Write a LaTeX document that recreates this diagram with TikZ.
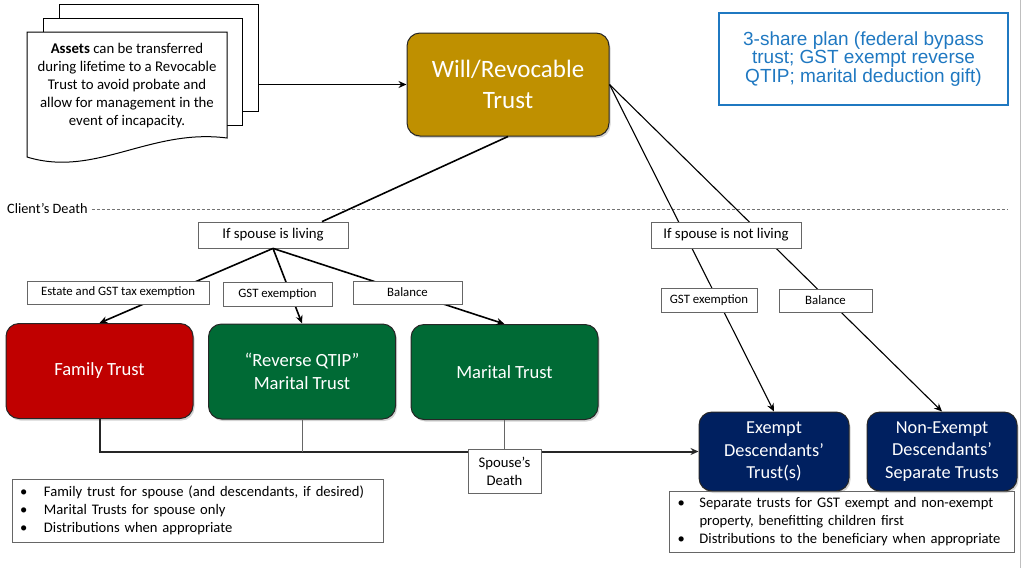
\documentclass[tikz,border=0pt]{standalone}
\usepackage{fontspec}
\setmainfont{Carlito}
\newfontfamily\arialfont{Liberation Sans}
\definecolor{gold}{HTML}{BF9000}
\definecolor{crimson}{HTML}{C00000}
\definecolor{forest}{HTML}{006A35}
\definecolor{navy}{HTML}{002060}
\definecolor{planblue}{HTML}{1F78C1}
\usetikzlibrary{arrows.meta, shadows}
\tikzset{box/.style={rounded corners=13pt, draw=black!85, line width=1pt, text=white, align=center, inner sep=0pt, drop shadow={opacity=0.35, shadow xshift=1.5pt, shadow yshift=-2pt}}}
\tikzset{trustsize/.style={minimum width=187pt, minimum height=95pt, font=\fontsize{18.6}{23}\selectfont}}
\tikzset{desc/.style={minimum width=150pt, minimum height=79pt, font=\fontsize{18.3}{22.5}\selectfont}}
\tikzset{sheet/.style={draw=black, line width=1pt, fill=white}}
\tikzset{tag/.style={draw=black!60, fill=white, line width=0.8pt, inner sep=0pt, font=\fontsize{12.8}{15}\selectfont}}
\tikzset{notes/.style={draw=black!60, line width=0.8pt, inner sep=0pt, align=left, font=\fontsize{14.6}{18}\selectfont}}
\tikzset{link/.style={line width=1.6pt, black}}
\tikzset{thinlink/.style={line width=1.1pt, black}}
\tikzset{spine/.style={line width=2pt, black!85}}
\tikzset{drop/.style={line width=0.6pt, black!60}}
\tikzset{arrowed/.style={-{Stealth[length=8pt, width=7pt]}}}

\begin{document}
\begin{tikzpicture}[x=1pt, y=-1pt]
	\useasboundingbox (0,0) rectangle (1024,568);
	\draw[black!25, line width=0.8pt] (1020,0) -- (1020,568);
	% stack of pages
	\node[sheet, minimum width=199pt, minimum height=107pt] (back) at (158.5,57.5) {};
	\node[sheet, minimum width=199pt, minimum height=107pt] (mid) at (142.5,71.5) {};
	\draw[sheet] (27,32) -- (227,32) -- (227,138) .. controls (150,128) and (95,178) .. (27,157) -- cycle;
	\node[align=center, font=\fontsize{14.8}{18}\selectfont] (assets) at (127,86) {\textbf{Assets} can be transferred\\during lifetime to a Revocable\\Trust to avoid probate and\\allow for management in the\\event of incapacity.};
	% main boxes
	\node[box, fill=gold, minimum width=202pt, minimum height=103pt, font=\fontsize{25}{31}\selectfont] (will) at (508,84.5) {Will/Revocable\\Trust};
	\node[draw=planblue, line width=1.5pt, text=planblue, minimum width=289pt, minimum height=92pt, inner sep=0pt, align=center, font=\arialfont\fontsize{19}{17.5}\selectfont] (plan) at (863.5,59) {3-share plan (federal bypass\\trust; GST exempt reverse\\QTIP; marital deduction gift)};
	\node[anchor=west, inner sep=0pt, font=\fontsize{14.3}{17}\selectfont] (death) at (7,209) {Client’s Death};
	\coordinate (deathR) at (1008,209);
	\draw[black!55, dash pattern=on 3pt off 2pt, line width=0.7pt] ([xshift=4pt]death.east) -- (deathR);
	\node[box, fill=crimson, trustsize] (family) at (99.5,371) {Family Trust};
	\node[box, fill=forest, trustsize] (qtip) at (302,371.5) {“Reverse QTIP”\\Marital Trust};
	\node[box, fill=forest, trustsize] (marital) at (504.5,372) {Marital Trust};
	\node[box, fill=navy, desc] (exempt) at (774,451.5) {Exempt\\Descendants’\\Trust(s)};
	\node[box, fill=navy, desc] (nonexempt) at (942,451.5) {Non-Exempt\\Descendants’\\Separate Trusts};
	\node[tag, minimum width=150pt, minimum height=26pt, font=\fontsize{14.8}{17}\selectfont] (living) at (273,235) {If spouse is living};
	% connectors
	\draw[link, arrowed] (assets -| back.east) ++(0,-1.5) -- (will.west);
	\draw[link] (will.south) -- ([xshift=49pt]living.north);
	\draw[link, arrowed] (living.south) -- (family.north);
	\draw[link, arrowed] (living.south) -- (qtip.north);
	\draw[link, arrowed] (living.south) -- (marital.north);
	\draw[thinlink, arrowed] (will.east) -- (exempt.north);
	\draw[thinlink, arrowed] (will.east) -- (nonexempt.north);
	\draw[spine, arrowed] (family.south) |- (exempt.west);
	\draw[drop] (qtip.south) -- (qtip.south |- exempt.west);
	\draw[drop] (marital.south) -- (marital.south |- exempt.west);
	% labels on the lines
	\node[tag, minimum width=150pt, minimum height=26pt, font=\fontsize{14.8}{17}\selectfont] (notliving) at (726,235) {If spouse is not living};
	\node[tag, minimum width=182pt, minimum height=23pt] (estate) at (118,292.5) {Estate and GST tax exemption};
	\node[tag, minimum width=109pt, minimum height=24pt] (gstL) at (277.5,294) {GST exemption};
	\node[tag, minimum width=109pt, minimum height=23pt] (balL) at (407.5,292.5) {Balance};
	\node[tag, minimum width=96pt, minimum height=24pt] (gstR) at (709,300) {GST exemption};
	\node[tag, minimum width=93pt, minimum height=23pt] (balR) at (825.5,300.5) {Balance};
	\node[tag, minimum width=73pt, minimum height=44pt, align=center, font=\fontsize{14.7}{18}\selectfont] (sdeath) at (504.5,471) {Spouse’s\\Death};
	% notes
	\node[notes, minimum width=371pt, minimum height=63pt, text width=355pt] (spousenotes) at (197.5,510.5) {\makebox[24pt][l]{•}Family trust for spouse (and descendants, if desired)\\\makebox[24pt][l]{•}Marital Trusts for spouse only\\\makebox[24pt][l]{•}Distributions when appropriate};
	\node[notes, minimum width=345pt, minimum height=61pt, text width=328pt] (descnotes) at (841.5,521.5) {\makebox[22pt][l]{•}Separate trusts for GST exempt and non-exempt\\\hspace*{22pt}property, benefitting children first\\\makebox[22pt][l]{•}Distributions to the beneficiary when appropriate};
\end{tikzpicture}
\end{document}
